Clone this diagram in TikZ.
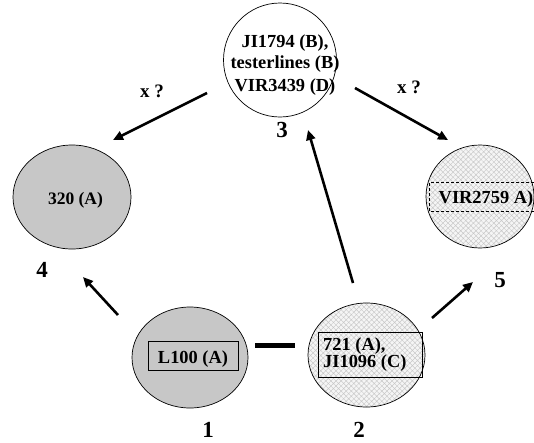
\documentclass[tikz,border=0pt]{standalone}
\usepackage{fontspec}
\setmainfont{Liberation Serif}
\usetikzlibrary{shapes.geometric,arrows.meta,patterns.meta}
\definecolor{fillgray}{RGB}{199,199,199}
\definecolor{hatchgray}{RGB}{200,200,200}
\begin{document}
\begin{tikzpicture}[x=1pt,y=-1pt,
 ell/.style={ellipse, draw, line width=0.7pt, inner sep=0pt},
 grayell/.style={ell, fill=fillgray},
 hatchell/.style={ell, preaction={fill=white!96!black}, pattern={Hatch[angle=45,distance=3.6pt,line width=0.45pt]}, pattern color=hatchgray},
 lbl/.style={font=\fontsize{18.4}{22}\selectfont\bfseries, inner sep=0pt, anchor=base},
 num/.style={font=\fontsize{23}{26}\selectfont\bfseries, inner sep=0pt, anchor=base},
 arr/.style={line width=2.6pt, -{Triangle[length=10pt,width=9pt]}},
 boxr/.style={draw, line width=0.7pt},
]
\useasboundingbox (0,0) rectangle (534,442);
% ellipses
\node[ell, minimum width=113pt, minimum height=114pt] (e3) at (280,60) {};
\node[grayell, minimum width=118pt, minimum height=104pt] (e4) at (72,197) {};
\node[hatchell, minimum width=108pt, minimum height=103pt] (e5) at (480,196.5) {};
\node[grayell, minimum width=116pt, minimum height=101pt] (e1) at (190,357.5) {};
\node[hatchell, minimum width=117pt, minimum height=104pt] (e2) at (366.5,355) {};
% inner boxes
\draw[boxr] (148,341) rectangle (238,370);
\draw[boxr] (318,332) rectangle (422,377);
\draw[line width=0.6pt, dash pattern=on 3pt off 2pt] (533.5,182) -- (429,182) -- (429,211) -- (533.5,211);
% texts
\node[lbl] (t3a) at (285,47) {JI1794 (B),};
\node[lbl] (t3b) at (285,68.5) {testerlines (B)};
\node[lbl] (t3c) at (285,91) {VIR3439 (D)};
\node[lbl, font=\fontsize{17.5}{20}\selectfont\bfseries] (t4) at (75.5,204) {320 (A)};
\node[lbl] (t5) at (486,203) {VIR2759 A)};
\node[lbl] (t1) at (193,363) {L100 (A)};
\node[lbl, anchor=base west] (t2a) at (323,350) {721 (A),};
\node[lbl, anchor=base west] (t2b) at (323,367) {JI1096 (C)};
% numbers
\node[num] (n1) at (208,437) {1};
\node[num] (n2) at (359,437) {2};
\node[num] (n3) at (282,137) {3};
\node[num] (n4) at (42,277) {4};
\node[num] (n5) at (500,287) {5};
% x ?
\node[lbl, font=\fontsize{19}{22}\selectfont\bfseries] (q4) at (152,97) {x ?};
\node[lbl, font=\fontsize{19}{22}\selectfont\bfseries] (q5) at (409,93) {x ?};
% connector end points
\coordinate (a34s) at (207,93);
\coordinate (a34e) at (113,140);
\coordinate (a35s) at (355,88);
\coordinate (a35e) at (448,140);
\coordinate (a14s) at (118,315);
\coordinate (a14e) at (83,277);
\coordinate (a23s) at (353,283);
\coordinate (a23e) at (308,130);
\coordinate (a25s) at (432,318);
\coordinate (a25e) at (473,282);
\coordinate (l12s) at (255,345.5);
\coordinate (l12e) at (295,345.5);
% connectors
\draw[arr] (a34s) -- (a34e);
\draw[arr] (a35s) -- (a35e);
\draw[arr] (a14s) -- (a14e);
\draw[arr] (a23s) -- (a23e);
\draw[arr] (a25s) -- (a25e);
\draw[line width=4.5pt] (l12s) -- (l12e);
\end{tikzpicture}
\end{document}
